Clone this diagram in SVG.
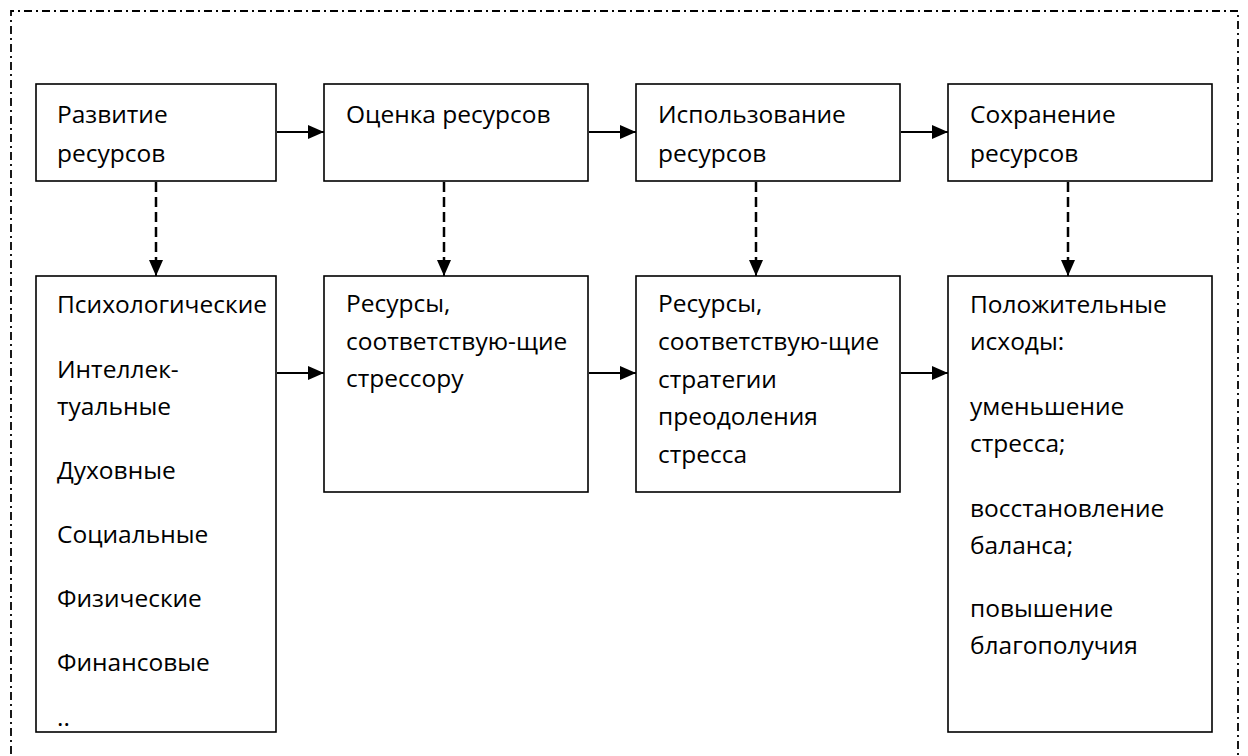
<svg xmlns="http://www.w3.org/2000/svg" width="1248" height="756" viewBox="0 0 1248 756">
<style>
.box{fill:#fff;stroke:#000;stroke-width:1.6}
.t{font-family:"Open Sans","Noto Sans","Liberation Sans",sans-serif;font-size:24.5px;fill:#000}
.solid{stroke:#000;stroke-width:2;fill:none}
.dash{stroke:#000;stroke-width:2.5;fill:none;stroke-dasharray:10 5}
.frame{fill:none;stroke:#000;stroke-width:1.8;stroke-dasharray:8 4 2 4}
</style>
<defs>
<marker id="ah" markerUnits="userSpaceOnUse" markerWidth="16" markerHeight="14" refX="16" refY="7" orient="auto">
<path d="M0,0 L16,7 L0,14 z" fill="#000"/>
</marker>
</defs>
<rect width="1248" height="756" fill="#fff"/>
<path class="frame" d="M11,790 L11,11 L1238,11 L1238,790"/>

<g id="n1">
<rect class="box" x="36" y="84" width="240" height="97"/>
<text class="t" x="57" y="123">Развитие</text>
<text class="t" x="57" y="162">ресурсов</text>
</g>
<g id="n2">
<rect class="box" x="324" y="84" width="264" height="97"/>
<text class="t" x="346" y="123">Оценка ресурсов</text>
</g>
<g id="n3">
<rect class="box" x="636" y="84" width="264" height="97"/>
<text class="t" x="658" y="123">Использование</text>
<text class="t" x="658" y="162">ресурсов</text>
</g>
<g id="n4">
<rect class="box" x="948" y="84" width="264" height="97"/>
<text class="t" x="970" y="123">Сохранение</text>
<text class="t" x="970" y="162">ресурсов</text>
</g>

<g id="m1">
<rect class="box" x="36" y="276" width="240" height="456"/>
<text class="t" x="57" y="313">Психологические</text>
<text class="t" x="57" y="378">Интеллек-</text>
<text class="t" x="57" y="415">туальные</text>
<text class="t" x="57" y="479">Духовные</text>
<text class="t" x="57" y="543">Социальные</text>
<text class="t" x="57" y="607">Физические</text>
<text class="t" x="57" y="671">Финансовые</text>
<text class="t" x="57" y="726">..</text>
</g>
<g id="m2">
<rect class="box" x="324" y="276" width="264" height="216"/>
<text class="t" x="346" y="312">Ресурсы,</text>
<text class="t" x="346" y="350">соответствую-щие</text>
<text class="t" x="346" y="387">стрессору</text>
</g>
<g id="m3">
<rect class="box" x="636" y="276" width="264" height="216"/>
<text class="t" x="658" y="312">Ресурсы,</text>
<text class="t" x="658" y="350">соответствую-щие</text>
<text class="t" x="658" y="388">стратегии</text>
<text class="t" x="658" y="425">преодоления</text>
<text class="t" x="658" y="463">стресса</text>
</g>
<g id="m4">
<rect class="box" x="948" y="276" width="264" height="456"/>
<text class="t" x="970" y="313">Положительные</text>
<text class="t" x="970" y="350">исходы:</text>
<text class="t" x="970" y="415">уменьшение</text>
<text class="t" x="970" y="452">стресса;</text>
<text class="t" x="970" y="517">восстановление</text>
<text class="t" x="970" y="554">баланса;</text>
<text class="t" x="970" y="617">повышение</text>
<text class="t" x="970" y="654">благополучия</text>
</g>

<g id="connectors">
<line class="solid" x1="277" y1="132" x2="324" y2="132" marker-end="url(#ah)"/>
<line class="solid" x1="589" y1="132" x2="636" y2="132" marker-end="url(#ah)"/>
<line class="solid" x1="901" y1="132" x2="948" y2="132" marker-end="url(#ah)"/>
<line class="solid" x1="277" y1="373" x2="324" y2="373" marker-end="url(#ah)"/>
<line class="solid" x1="589" y1="373" x2="636" y2="373" marker-end="url(#ah)"/>
<line class="solid" x1="901" y1="373" x2="948" y2="373" marker-end="url(#ah)"/>
<line class="dash" x1="156" y1="182" x2="156" y2="262"/>
<line class="solid" x1="156" y1="262" x2="156" y2="276" marker-end="url(#ah)"/>
<line class="dash" x1="444" y1="182" x2="444" y2="262"/>
<line class="solid" x1="444" y1="262" x2="444" y2="276" marker-end="url(#ah)"/>
<line class="dash" x1="756" y1="182" x2="756" y2="262"/>
<line class="solid" x1="756" y1="262" x2="756" y2="276" marker-end="url(#ah)"/>
<line class="dash" x1="1068" y1="182" x2="1068" y2="262"/>
<line class="solid" x1="1068" y1="262" x2="1068" y2="276" marker-end="url(#ah)"/>
</g>
</svg>
